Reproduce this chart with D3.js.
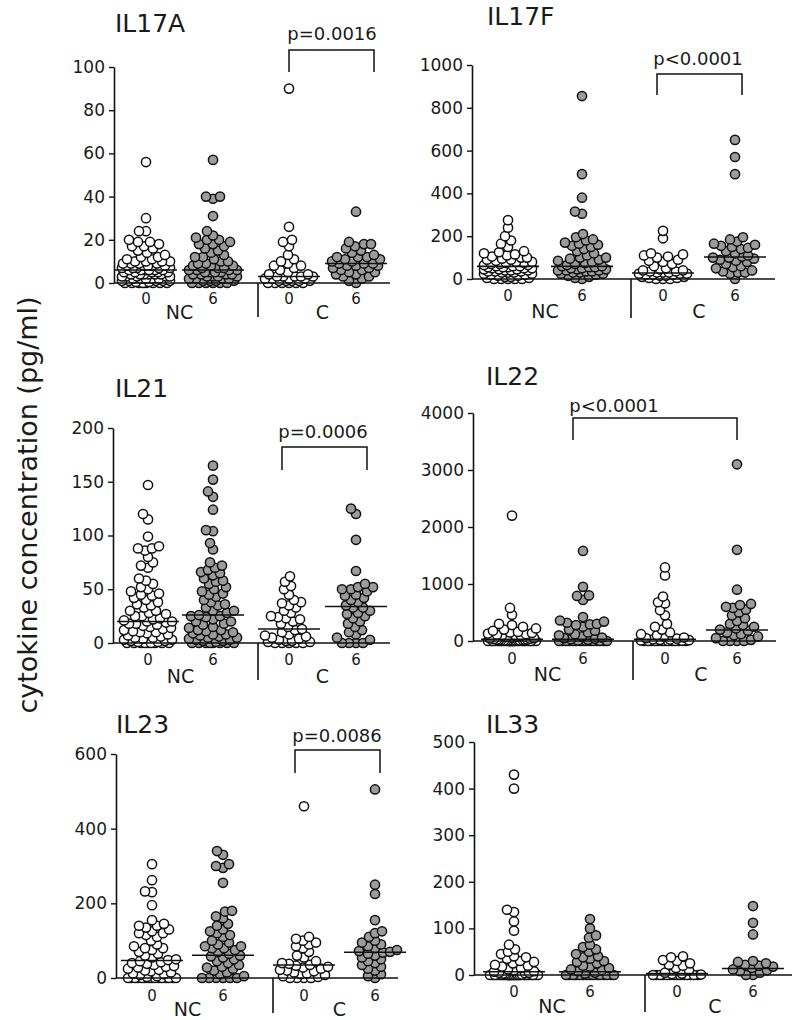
<!DOCTYPE html>
<html><head><meta charset="utf-8">
<script src="https://cdn.jsdelivr.net/npm/d3@7"></script>
<style>
html,body{margin:0;padding:0;background:#fff;}
svg{display:block;}
text{font-family:"DejaVu Sans",sans-serif;fill:#1a1a1a;}
</style></head>
<body>
<svg id="chart" width="796" height="1020"></svg>
<script>
// ---- data (pg/ml) ----
const groups = ["NC0", "NC6", "C0", "C6"];
const groupTicks = ["0", "6", "0", "6"];
const cohorts = ["NC", "C"];

const il17a_nc0 = [56,30,24,24,20,19,19,18,17,17,16,15,14,13,12,12,11,11,10,10,10,10,9,9,9,9,8,8,8,8,8,7,7,7,7,7,6,6,6,6,6,6,5,5,5,5,5,4,4,4,4,4,4,3,3,3,3,3,2,2,2,2,2,1,1,1,1,1,0.5,0.5,0,0,0,0,0,0,0,0];
const il17a_nc6 = [57,40,40,39,31,24,22,21,20,20,19,18,18,17,16,15,14,13,12,12,11,10,10,9,9,8,8,8,7,7,7,6,6,6,6,5,5,5,5,4,4,4,4,3,3,3,3,2,2,2,2,1,1,1,1,0,0,0,0,0,0];
const il17a_c0 = [90,26,20,19,17,13,11,10,9,8,8,7,6,5,4,4,3,3,3,3,3,2,2,2,2,1,1,1,1,1,0,0,0,0,0,0];
const il17a_c6 = [33,19,18,18,17,16,15,14,13,12,12,12,11,11,10,10,9,9,9,8,8,8,7,7,6,6,5,5,4,4,3,3,2,1,0];
const il17a_median = [6, 6, 3, 9];

const il17f_nc0 = [275,240,200,180,165,150,130,125,120,115,110,105,100,100,95,90,90,85,80,80,75,75,70,70,65,65,60,60,60,55,55,55,50,50,50,45,45,45,40,40,40,35,35,35,30,30,30,25,25,20,20,15,15,10,10,5,5,0,0,0,0,0];
const il17f_nc6 = [855,490,380,315,305,210,195,185,180,170,165,160,155,150,140,130,120,110,100,100,95,90,85,80,75,70,65,60,60,55,55,50,50,45,45,40,40,40,35,35,30,30,25,25,20,15,10,5,0];
const il17f_c0 = [225,190,120,115,110,105,100,90,85,80,70,60,50,45,40,40,35,35,30,30,30,25,25,25,20,20,20,15,15,10,10,5,5,0,0,0];
const il17f_c6 = [650,570,490,195,185,175,165,160,155,150,145,140,130,120,110,105,100,100,95,90,85,80,70,60,55,50,40,35,30,30,25,0];
const il17f_median = [59, 59, 28, 103];

const il21_nc0 = [147,120,115,99,90,88,88,86,80,75,72,70,60,58,55,52,50,48,46,45,44,42,40,38,36,35,33,30,30,28,27,25,25,23,22,21,20,20,19,18,18,17,16,15,14,13,12,11,10,10,9,8,7,6,5,5,4,3,3,2,2,1,1,0,0,0,0,0,0,0,0,0];
const il21_nc6 = [165,152,141,136,124,105,104,93,87,75,72,70,68,66,65,63,60,58,57,55,52,50,48,46,45,43,40,38,36,35,33,30,30,28,26,25,25,24,22,20,20,18,17,15,14,12,12,11,10,9,8,8,7,6,5,5,4,3,3,2,2,1,0,0,0,0,0,0,0,0];
const il21_c0 = [62,57,53,50,45,40,38,37,35,33,30,28,25,24,23,22,20,18,15,13,12,10,8,7,6,5,4,3,2,2,1,1,0,0,0,0,0];
const il21_c6 = [125,120,96,67,55,52,52,50,50,48,45,44,42,40,38,35,33,33,30,28,27,25,23,20,18,15,12,10,8,5,3,0,0,0,0];
const il21_median = [20, 26, 13, 34];

const il22_nc0 = [2200,580,460,300,280,250,220,200,180,160,150,140,130,120,110,100,90,80,70,60,50,45,40,35,30,25,20,20,15,15,10,10,10,5,5,5,0,0,0,0,0,0,0,0,0,0,0,0,0,0,0,0,0,0,0,0,0,0,0,0,0];
const il22_nc6 = [1580,950,800,790,720,420,360,340,320,300,290,280,250,200,180,150,120,100,80,60,50,40,30,20,10,0,0,0,0,0,0,0,0,0,0,0,0,0,0,0];
const il22_c0 = [1290,1150,780,680,660,540,450,300,250,200,150,120,100,80,60,50,40,30,25,20,15,10,5,0,0,0,0,0,0,0,0,0,0,0,0];
const il22_c6 = [3100,1600,900,650,630,600,580,550,500,450,400,350,300,280,250,220,200,180,150,120,100,80,50,20,0,0,0,0];
const il22_median = [30, 30, 30, 193];

const il23_nc0 = [305,262,232,230,195,155,145,140,140,135,130,125,120,120,115,110,100,90,85,80,80,75,70,65,60,55,50,48,45,42,40,38,35,32,30,28,25,22,20,18,15,12,10,8,5,3,0,0,0,0,0,0,0,0,0,0,0,0,0,0,0];
const il23_nc6 = [340,330,305,300,295,255,180,178,165,160,145,140,130,125,120,115,110,100,95,90,85,85,80,80,75,70,65,60,58,55,50,45,40,35,30,28,25,20,15,10,5,0,0,0,0,0,0];
const il23_c0 = [460,110,105,100,95,90,85,80,70,60,55,45,40,38,35,33,30,28,25,22,20,18,15,12,10,8,5,3,0,0,0,0];
const il23_c6 = [505,250,225,155,125,120,110,100,95,90,85,80,75,72,70,68,65,60,55,50,45,40,35,30,25,20,10,5,0];
const il23_median = [47, 61, 35, 69];

const il33_nc0 = [430,400,140,135,115,95,65,55,50,45,40,38,35,30,28,25,22,20,18,15,12,10,8,7,5,5,4,3,2,1,0,0,0,0,0,0,0,0,0,0,0,0,0,0,0,0,0,0,0,0,0,0,0,0,0,0,0,0,0,0];
const il33_nc6 = [120,100,85,80,65,60,55,50,45,40,38,35,30,28,25,20,18,15,12,10,8,5,3,0,0,0,0,0,0,0,0,0,0,0,0,0,0,0];
const il33_c0 = [40,38,32,30,25,22,20,15,10,5,3,2,1,0,0,0,0,0,0,0,0,0,0,0,0,0,0];
const il33_c6 = [148,112,87,30,28,25,22,20,18,15,12,10,8,5,0,0];
const il33_median = [7, 7, 3, 14];

const il17a_ticks = [0,20,40,60,80,100];
const il17f_ticks = [0,200,400,600,800,1000];
const il21_ticks = [0,50,100,150,200];
const il22_ticks = [0,1000,2000,3000,4000];
const il23_ticks = [0,200,400,600];
const il33_ticks = [0,100,200,300,400,500];

const titles = ["IL17A","IL17F","IL21","IL22","IL23","IL33"];
const pLabels = ["p=0.0016","p<0.0001","p=0.0006","p<0.0001","p=0.0086",null];
const yLabel = "cytokine concentration (pg/ml)";

// ---- layout ----
const panels = [
  {title:titles[0], p:pLabels[0], data:[il17a_nc0,il17a_nc6,il17a_c0,il17a_c6], med:il17a_median, ticks:il17a_ticks,
   ax:114, yTop:67, yBot:283, xEnd:390, cx:[146,213,289,356], div:258,
   tx:115, ty:32, px:332, py:40, bx:[289,374], bTop:50, bLeg:72, lab0:304, lab1:319, divEnd:317},
  {title:titles[1], p:pLabels[1], data:[il17f_nc0,il17f_nc6,il17f_c0,il17f_c6], med:il17f_median, ticks:il17f_ticks,
   ax:472, yTop:65, yBot:279, xEnd:775, cx:[508,582,663,735], div:631,
   tx:487, ty:25, px:698, py:65, bx:[657,742], bTop:74, bLeg:95, lab0:301, lab1:318, divEnd:318},
  {title:titles[2], p:pLabels[2], data:[il21_nc0,il21_nc6,il21_c0,il21_c6], med:il21_median, ticks:il21_ticks,
   ax:113, yTop:428, yBot:643, xEnd:390, cx:[148,213,289,356], div:258,
   tx:115, ty:397, px:323, py:438, bx:[282,367], bTop:447, bLeg:470, lab0:665, lab1:683, divEnd:680},
  {title:titles[3], p:pLabels[3], data:[il22_nc0,il22_nc6,il22_c0,il22_c6], med:il22_median, ticks:il22_ticks,
   ax:473, yTop:413, yBot:641, xEnd:776, cx:[512,583,665,737], div:633,
   tx:486, ty:385, px:614, py:412, bx:[573,737], bTop:418, bLeg:440, lab0:664, lab1:681, divEnd:680},
  {title:titles[4], p:pLabels[4], data:[il23_nc0,il23_nc6,il23_c0,il23_c6], med:il23_median, ticks:il23_ticks,
   ax:116, yTop:754, yBot:978, xEnd:398, cx:[152,223,304,375], div:273,
   tx:116, ty:733, px:337, py:742, bx:[295,380], bTop:750, bLeg:773, lab0:1001, lab1:1016, divEnd:1013},
  {title:titles[5], p:pLabels[5], data:[il33_nc0,il33_nc6,il33_c0,il33_c6], med:il33_median, ticks:il33_ticks,
   ax:474, yTop:742, yBot:975, xEnd:792, cx:[514,590,677,753], div:645,
   tx:486, ty:733, px:0, py:0, bx:null, bTop:0, bLeg:0, lab0:997, lab1:1013, divEnd:1012}
];

const svg = d3.select("#chart");
const R = 4.6, MIN_D = 7.0, MAX_HALF = 24;
const fills = ["#ffffff","#9c9c9c","#ffffff","#9c9c9c"];

function swarm(values, y, cx) {
  const pts = values.map(v => ({v, y: y(v)})).sort((a,b) => b.y - a.y);
  const placed = [];
  pts.forEach(p => {
    let best = null, bestD = -1;
    for (let k = 0; k <= MAX_HALF * 2; k++) {
      const off = (k % 2 === 0 ? 1 : -1) * Math.ceil(k / 2);
      const x = cx + off;
      let mind = Infinity;
      for (const q of placed) {
        const d = Math.hypot(q.x - x, q.y - p.y);
        if (d < mind) mind = d;
      }
      if (mind >= MIN_D) { best = x; bestD = mind; break; }
      if (mind > bestD) { bestD = mind; best = x; }
    }
    p.x = best;
    placed.push(p);
  });
  return placed;
}

panels.forEach(P => {
  const y = d3.scaleLinear().domain([0, P.ticks[P.ticks.length-1]]).range([P.yBot, P.yTop]);
  const x = d3.scaleOrdinal().domain(groups).range(P.cx);
  const g = svg.append("g");

  // points
  P.data.forEach((vals, i) => {
    const pts = swarm(vals, y, x(groups[i]));
    g.append("g").selectAll("circle").data(pts).join("circle")
      .attr("cx", d => d.x).attr("cy", d => d.y).attr("r", R)
      .attr("fill", fills[i]).attr("stroke", "#111").attr("stroke-width", 1.5);
  });

  // median lines
  g.append("g").selectAll("line").data(P.med).join("line")
    .attr("x1", (d,i) => x(groups[i]) - 31).attr("x2", (d,i) => x(groups[i]) + 31)
    .attr("y1", d => y(d)).attr("y2", d => y(d))
    .attr("stroke", "#111").attr("stroke-width", 1.6);

  // y axis
  const ya = g.append("g").attr("transform", `translate(${P.ax},0)`)
    .call(d3.axisLeft(y).tickValues(P.ticks).tickSize(5).tickSizeOuter(0).tickPadding(4).tickFormat(d3.format("d")));
  ya.select(".domain").attr("stroke", "#111").attr("stroke-width", 1.6);
  ya.selectAll(".tick line").attr("stroke", "#111").attr("stroke-width", 1.4);
  ya.selectAll(".tick text").style("font-family", '"DejaVu Sans",sans-serif').style("font-size", "17px").attr("fill", "#1a1a1a");

  // x axis line
  g.append("line").attr("x1", P.ax).attr("x2", P.xEnd).attr("y1", P.yBot).attr("y2", P.yBot)
    .attr("stroke", "#111").attr("stroke-width", 1.6);
  // divider
  g.append("line").attr("x1", P.div).attr("x2", P.div).attr("y1", P.yBot).attr("y2", P.divEnd)
    .attr("stroke", "#111").attr("stroke-width", 1.6);

  // group tick labels
  g.append("g").selectAll("text").data(groups).join("text")
    .attr("x", d => x(d)).attr("y", P.lab0).attr("text-anchor", "middle")
    .style("font-size", "15px").text((d,i) => groupTicks[i]);
  // cohort labels
  g.append("g").selectAll("text").data(cohorts).join("text")
    .attr("x", (d,i) => (x(groups[2*i]) + x(groups[2*i+1])) / 2).attr("y", P.lab1)
    .attr("text-anchor", "middle").style("font-size", "19px").text(d => d);

  // title
  g.append("text").attr("x", P.tx).attr("y", P.ty).style("font-size", "25px").text(P.title);

  // p value bracket
  if (P.p) {
    g.append("text").attr("x", P.px).attr("y", P.py).attr("text-anchor", "middle")
      .style("font-size", "18px").text(P.p);
    g.append("path")
      .attr("d", `M${P.bx[0]},${P.bLeg}V${P.bTop}H${P.bx[1]}V${P.bLeg}`)
      .attr("fill", "none").attr("stroke", "#111").attr("stroke-width", 1.5);
  }
});

// shared y label
svg.append("text")
  .attr("transform", "translate(37,505) rotate(-90)")
  .attr("text-anchor", "middle").style("font-size", "27px").text(yLabel);
</script>
</body></html>
